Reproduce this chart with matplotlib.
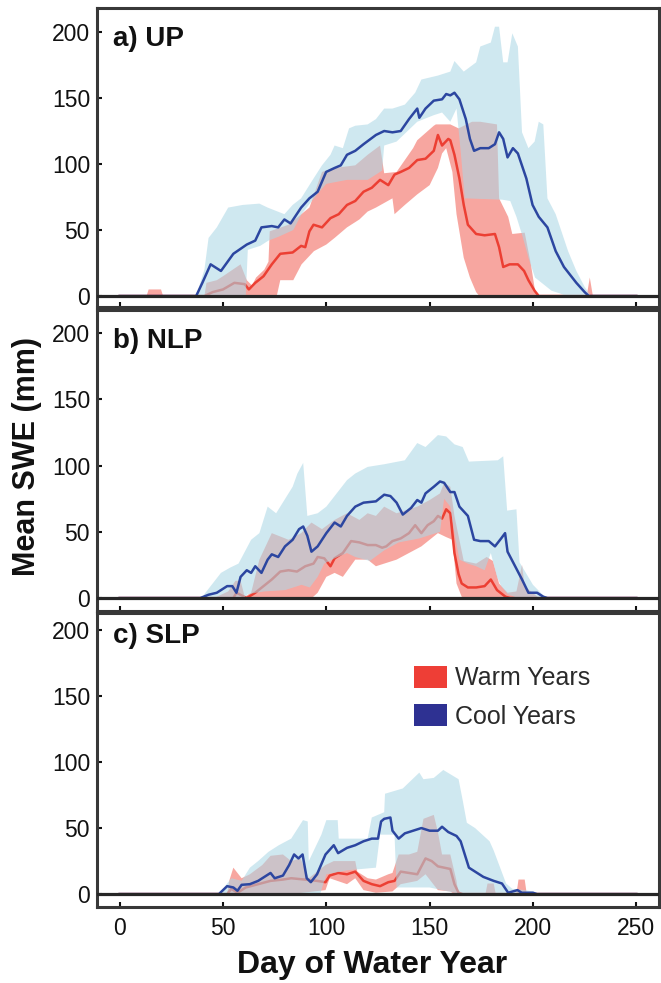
import numpy as np
import matplotlib.pyplot as plt
from matplotlib.patches import Patch

# ---- panel a) UP ----
a_cool_day = [0, 37, 40, 44, 49, 55, 61.5, 65.6, 68.6, 73.6, 76.7, 79.7, 82.7, 87.8, 91.8, 95.8, 99.9, 104, 107, 110,
              114, 118, 124, 128, 132, 136, 140, 144, 145, 148, 152, 156, 158, 160, 162, 164.4, 167.5, 169.5, 171.5,
              174.5, 178.6, 181.6, 183.6, 185.6, 187.7, 190.3, 192.7, 196.8, 199.8, 202.8, 207, 211, 215, 221, 225,
              227, 250]
a_cool_mean = [0, 0, 10, 24, 19, 32, 39, 42, 52, 53, 52, 58, 55, 67, 74, 79, 94, 97, 99, 107,
               110, 115, 122, 125, 124, 125, 134, 142, 135, 142, 148, 149, 153, 152, 154, 149, 134, 119, 110,
               112, 112, 115, 124, 119, 105, 112, 108, 89, 69, 60, 52, 34, 22, 10, 3,
               0, 0]
a_cool_hi_day = [0, 37, 41, 43, 47, 52.5, 59.5, 67.6, 71.6, 79.7, 83.7, 87.8, 93.8, 97.9, 102, 104, 108, 111, 114,
                 120, 124, 128, 132, 138, 143, 146, 154, 160, 162, 166.5, 172.5, 174.5, 179.6, 181.6, 183.6, 185.6,
                 187.7, 190, 192.7, 194.7, 197.8, 200.8, 202.8, 205, 207, 211, 217, 221, 225, 228, 250]
a_cool_hi = [0, 0, 20, 44, 52, 67, 69, 70, 67, 62, 69, 74, 89, 99, 107, 114, 112, 127, 129,
             130, 134, 142, 142, 145, 154, 164, 167, 170, 178, 170, 177, 189, 192, 204, 204, 177,
             177, 199, 189, 124, 112, 117, 132, 130, 74, 62, 34, 19, 7, 0, 0]
a_cool_lo_day = [0, 61, 62, 68, 72, 77, 84, 88, 96, 100, 110, 120, 127, 128, 134, 144, 152, 156, 160, 163, 165,
                 167, 185, 189, 192, 195, 198, 201, 205, 209, 213, 216, 250]
a_cool_lo = [0, 0, 35, 38, 42, 45, 50, 62, 78, 85, 88, 88, 95, 114, 117, 132, 137, 139, 132, 142, 110,
             74, 73, 72, 60, 45, 28, 14, 9, 4, 2, 0, 0]
a_warm_day = [0, 41, 45, 50, 55.5, 60.5, 62.5, 65.6, 69.6, 73.6, 77.7, 83.7, 87.8, 89.8, 91.8, 93.8, 97.9, 102, 106,
              110, 114, 118, 122, 126, 130, 133, 136, 140, 144, 148, 152, 154, 156, 159, 160, 162, 164.4, 166.5,
              168.5, 172.5, 176.6, 181.6, 183.6, 185.6, 188.7, 192.7, 195.7, 197.8, 200.8, 202.8, 250]
a_warm_mean = [0, 0, 3, 5, 10, 9, 5, 10, 15, 24, 32, 33, 38, 37, 49, 54, 52, 59, 62,
               69, 72, 79, 82, 88, 84, 92, 94, 97, 103, 104, 110, 122, 114, 119, 118, 107, 89, 69,
               54, 47, 46, 47, 37, 22, 24, 24, 19, 12, 4, 0, 0]
a_warm_hi_day = [0, 13, 14, 20, 21, 41, 42, 47, 50, 58.5, 61.5, 64, 66, 70, 72, 72.6, 81.7, 91.8, 97.9, 104,
                 114, 120, 126, 128, 134, 142, 144, 152, 153, 160, 164, 170.5, 174.5, 182.6, 183.6, 188, 190,
                 196, 199, 201, 203, 226, 227.5, 229, 250]
a_warm_hi = [0, 0, 5, 5, 0, 0, 10, 12, 15, 24, 12, 8, 14, 20, 26, 49, 54, 67, 94, 97,
             99, 107, 114, 93, 94, 112, 118, 129, 130, 130, 127, 132, 132, 130, 74, 60, 47,
             48, 24, 4, 0, 0, 14, 0, 0]
a_warm_lo_day = [0, 76, 77.7, 84, 88, 94, 100, 104, 110, 116, 120, 124, 132, 133, 138, 144, 150, 154, 156, 158,
                 161, 163, 166.5, 169.5, 172.5, 174, 250]
a_warm_lo = [0, 0, 12, 12, 24, 34, 39, 44, 52, 58, 64, 67, 74, 62, 69, 77, 84, 97, 108, 112,
             94, 62, 29, 14, 3, 0, 0]

# ---- panel b) NLP ----
b_cool_day = [0, 39, 43, 47, 52, 54.5, 56.5, 58.5, 61.5, 63.6, 65.6, 68.6, 71.6, 73.6, 76.7, 80, 83.7, 86.8, 88.8,
              90.8, 92.8, 95.8, 100, 104, 107, 110, 114, 118, 124, 128, 131, 134, 137, 141, 144, 146, 148, 152, 155,
              157, 160, 162, 164.4, 168.5, 171.5, 174.5, 178.6, 181.6, 184.6, 186.5, 187.7, 190.7, 194.7, 197.8,
              202, 205, 207, 250]
b_cool_mean = [0, 0, 2.5, 4, 9, 9, 4, 16, 21, 19, 24, 19, 29, 33, 31, 39, 44, 52, 54,
               47, 35, 39, 49, 57, 54, 62, 69, 72, 73, 78, 77, 72, 63, 68, 74, 72, 79, 84, 88,
               87, 80, 80, 69, 62, 44, 43, 43, 39, 45, 49, 35, 26, 14, 4,
               4, 1, 0, 0]
b_cool_hi_day = [0, 40, 41, 49, 53.5, 57.5, 63.6, 67.6, 71.6, 75.7, 83.7, 86, 88.8, 90.8, 95.8, 100, 104, 110,
                 114, 120, 128, 138, 144, 148, 154, 158, 162, 166, 169, 183, 185.6, 187.5, 192, 193.5, 200, 205,
                 208, 250]
b_cool_hi = [0, 0, 3, 19, 23, 26, 44, 49, 69, 64, 84, 94, 102, 62, 64, 69, 77, 89,
             94, 99, 101, 104, 117, 114, 123, 122, 116, 114, 103, 104, 107, 66, 67, 27, 10, 2,
             0, 0]
b_cool_lo_day = [0, 60, 62, 70, 80, 88, 92, 95.8, 99, 104, 110, 114, 121, 128, 135, 145, 155, 157, 160, 162,
                 164.4, 168.5, 172.5, 176.6, 179.6, 182.6, 184.6, 187.7, 192.7, 250]
b_cool_lo = [0, 0, 3, 5, 6, 10, 8, 16, 26, 30, 34, 31, 28, 36, 42, 45, 50, 75, 69, 49,
             29, 26, 24, 21, 34, 16, 9, 3, 0, 0]
b_warm_day = [0, 55, 56.5, 59, 61.5, 65.6, 69.6, 73.6, 77.7, 81.7, 85.8, 89.8, 93.8, 95.8, 99, 102, 104, 108, 112,
              116, 120, 124, 127, 129, 132, 136, 140, 143, 146, 149, 152, 154, 156, 158, 160, 162, 164, 165.5,
              168.5, 172.5, 176.6, 179.6, 182.6, 186.7, 189, 250]
b_warm_mean = [0, 0, 4, 2, 0, 4, 9, 14, 20, 21, 20, 24, 26, 31, 30, 24, 30, 34, 43,
               42, 40, 40, 38, 39, 43, 45, 49, 55, 49, 55, 58, 62, 60, 67, 64, 34, 18, 11,
               8, 8, 9, 14, 6, 1, 0, 0]
b_warm_hi_day = [0, 46, 47, 52.5, 56, 58.5, 60.5, 63.6, 67.6, 73.6, 81.7, 87.8, 92.8, 97.9, 104, 110, 116, 120,
                 124, 128, 134, 140, 144, 150, 155, 157, 160, 162, 166.5, 172.5, 177.6, 180.6, 183.6, 187.7,
                 192, 194.7, 196, 199, 203, 250]
b_warm_hi = [0, 0, 1, 5, 13, 13, 1, 4, 29, 49, 44, 49, 57, 52, 59, 64, 59, 64,
             62, 69, 64, 67, 69, 74, 79, 87, 84, 62, 28, 26, 31, 28, 11, 4,
             5, 25, 9, 5, 0, 0]
b_warm_lo_day = [0, 93, 95.8, 100, 104, 108, 114, 120, 124, 128, 134, 140, 146, 150, 154, 158, 161, 163, 165.5,
                 167, 250]
b_warm_lo = [0, 0, 4, 16, 19, 16, 29, 29, 24, 26, 29, 34, 39, 44, 49, 46, 44, 11, 1,
             0, 0]

# ---- panel c) SLP ----
c_cool_day = [0, 48, 52, 55, 57, 59, 63, 67, 71, 73, 75, 79, 82, 84.4, 86.5, 88.5, 90.5, 92.5, 95.5, 99.6, 103.6,
              105.7, 110, 114, 118, 122, 125, 126.5, 128, 131, 132, 135, 138, 142, 146, 150, 154, 156, 159, 163,
              165, 167, 169, 172, 176, 181, 185, 188, 192.5, 194.6, 200, 202, 250]
c_cool_mean = [0, 0, 6, 5, 2.5, 7, 7.5, 10, 14, 16, 12, 14, 22, 30, 27, 30, 12, 9, 15, 30, 37,
               31, 35, 37, 40, 42, 42, 55, 57, 58, 48, 42, 46, 48, 50, 48, 48, 51, 47, 44,
               40, 30, 20, 17, 13, 10, 8, 1, 3, 1, 1, 0, 0]
c_cool_hi_day = [0, 48, 49, 54, 59, 63, 67, 72, 77, 83, 88.7, 91, 91.5, 97.6, 100, 105.5, 106, 112, 120, 122,
                 128, 128.4, 137, 145, 147, 152, 156.6, 164, 166, 168, 172, 179, 181, 187, 190, 196, 200, 203, 250]
c_cool_hi = [0, 0, 2, 12, 10, 20, 25, 32, 37, 42, 56, 55, 25, 45, 56, 56, 42, 42, 42, 58,
             62, 76, 80, 92, 87, 88, 94, 87, 71, 54, 50, 40, 33, 8, 4, 3, 2, 0, 0]
c_cool_lo_day = [0, 97, 100, 110, 124, 126, 133, 134, 150, 165, 250]
c_cool_lo = [0, 0, 15, 18, 20, 45, 45, 5, 5, 0, 0]
c_warm_day = [0, 52, 54, 57, 61, 67, 73, 79, 83, 89.5, 95.5, 99.6, 101.6, 105.7, 110, 114, 118, 122, 126, 130,
              133, 136, 140, 144, 148, 151, 154, 157, 160, 162, 164, 166, 250]
c_warm_mean = [0, 0, 4, 1, 5, 7.5, 10, 11, 12, 11, 10, 9, 14, 16, 15, 17, 10, 7.5, 6, 9,
               10, 17, 16, 15, 27, 25, 21, 20, 19, 7.5, 1, 0, 0]
c_warm_hi_day = [0, 52, 53, 55, 59, 63, 69, 73, 79, 83, 87.5, 91.5, 95.5, 99.6, 103.6, 114, 115, 120, 124, 130,
                 132, 135, 140, 144, 147, 152, 154, 156, 160, 163, 164, 177, 178, 181, 182, 192, 193, 196, 197, 250]
c_warm_hi = [0, 0, 10, 20, 12, 15, 22, 29, 30, 25, 27, 12, 17, 22, 25, 25, 17, 12, 11, 15,
             16, 30, 30, 32, 57, 60, 47, 30, 30, 10, 0, 0, 8, 8, 0, 0, 11, 11, 0, 0]
c_warm_lo_day = [0, 83, 99.6, 101.6, 110, 114, 118, 124, 132, 136, 144, 148, 154, 160, 162, 250]
c_warm_lo = [0, 0, 3, 12, 7.5, 12, 3, 1, 2, 7.5, 10, 15, 3, 2, 0, 0]

panel_names = ['a) UP', 'b) NLP', 'c) SLP']
legend_labels = ['Warm Years', 'Cool Years']
x_ticks = [0, 50, 100, 150, 200, 250]
y_ticks = [0, 50, 100, 150, 200]

WARM_LINE = '#ec3f33'
WARM_FILL = '#ef3b2c'
COOL_LINE = '#2c46a0'
COOL_FILL = '#add8e6'
WARM_KEY = '#ee3e36'
COOL_KEY = '#2e3192'
FRAME = '#383838'

plt.rcParams['font.family'] = ['Liberation Sans', 'DejaVu Sans']


def band(ax, hi_day, hi, lo_day, lo, color, alpha, z):
    xs = np.concatenate([hi_day, lo_day[::-1]])
    ys = np.concatenate([hi, lo[::-1]])
    ax.fill(xs, ys, color=color, alpha=alpha, lw=0, zorder=z)


def draw_panel(ax, name, warm, cool, label_y):
    wd, wm, whd, wh, wld, wl = [np.array(v, dtype=float) for v in warm]
    cd, cm, chd, ch, cld, cl = [np.array(v, dtype=float) for v in cool]
    band(ax, whd, wh, wld, wl, WARM_FILL, 0.45, 1)
    ax.plot(wd, wm, color=WARM_LINE, lw=1.8, zorder=2)
    band(ax, chd, ch, cld, cl, COOL_FILL, 0.58, 3)
    ax.plot(cd, cm, color=COOL_LINE, lw=1.8, zorder=4)
    ax.axhline(0, color='#262626', lw=2.3, zorder=5)

    ax.set_xlim(-11, 261)
    ax.set_xticks(x_ticks)
    ax.set_yticks(y_ticks)
    ax.tick_params(axis='both', direction='in', length=3.6, width=1.5, color='#111111',
                   labelsize=16.5, labelcolor='#111111')
    ax.tick_params(axis='y', pad=5)
    ax.tick_params(axis='x', pad=7)
    for s in ax.spines.values():
        s.set_linewidth(2.2)
        s.set_color(FRAME)
    ax.text(0.028, label_y, name, transform=ax.transAxes, ha='left', va='top',
            fontsize=20, fontweight='bold', color='#111111')


def main():
    fig = plt.figure(figsize=(6.61, 9.83), dpi=100)
    left, width = 0.1467, 0.8503
    ax_a = fig.add_axes([left, 0.6877, width, 0.3042])
    ax_b = fig.add_axes([left, 0.3784, width, 0.3062])
    ax_c = fig.add_axes([left, 0.0773, width, 0.2991])

    draw_panel(ax_a, panel_names[0],
               (a_warm_day, a_warm_mean, a_warm_hi_day, a_warm_hi, a_warm_lo_day, a_warm_lo),
               (a_cool_day, a_cool_mean, a_cool_hi_day, a_cool_hi, a_cool_lo_day, a_cool_lo), 0.94)
    draw_panel(ax_b, panel_names[1],
               (b_warm_day, b_warm_mean, b_warm_hi_day, b_warm_hi, b_warm_lo_day, b_warm_lo),
               (b_cool_day, b_cool_mean, b_cool_hi_day, b_cool_hi, b_cool_lo_day, b_cool_lo), 0.94)
    draw_panel(ax_c, panel_names[2],
               (c_warm_day, c_warm_mean, c_warm_hi_day, c_warm_hi, c_warm_lo_day, c_warm_lo),
               (c_cool_day, c_cool_mean, c_cool_hi_day, c_cool_hi, c_cool_lo_day, c_cool_lo), 0.965)

    ax_a.set_ylim(-8.3, 218.2)
    ax_b.set_ylim(-9.8, 217.4)
    ax_c.set_ylim(-9.8, 212.9)
    ax_a.tick_params(axis='x', labelbottom=False)
    ax_b.tick_params(axis='x', labelbottom=False)

    handles = [Patch(facecolor=WARM_KEY, edgecolor='none'), Patch(facecolor=COOL_KEY, edgecolor='none')]
    ax_c.legend(handles, legend_labels, loc='upper left', bbox_to_anchor=(0.564, 0.82),
                frameon=False, fontsize=18, handlelength=1.32, handleheight=0.96,
                handletextpad=0.32, labelspacing=0.55, borderpad=0, borderaxespad=0,
                labelcolor='#2a2a2a')

    fig.text(27 / 661, 1 - 457 / 983, 'Mean SWE (mm)', rotation=90, ha='center', va='center',
             fontsize=22, fontweight='bold', color='#111111')
    fig.text(372 / 661, 1 - 965 / 983, 'Day of Water Year', ha='center', va='center',
             fontsize=23, fontweight='bold', color='#111111')

    fig.savefig('out.png', dpi=100)


if __name__ == '__main__':
    main()
